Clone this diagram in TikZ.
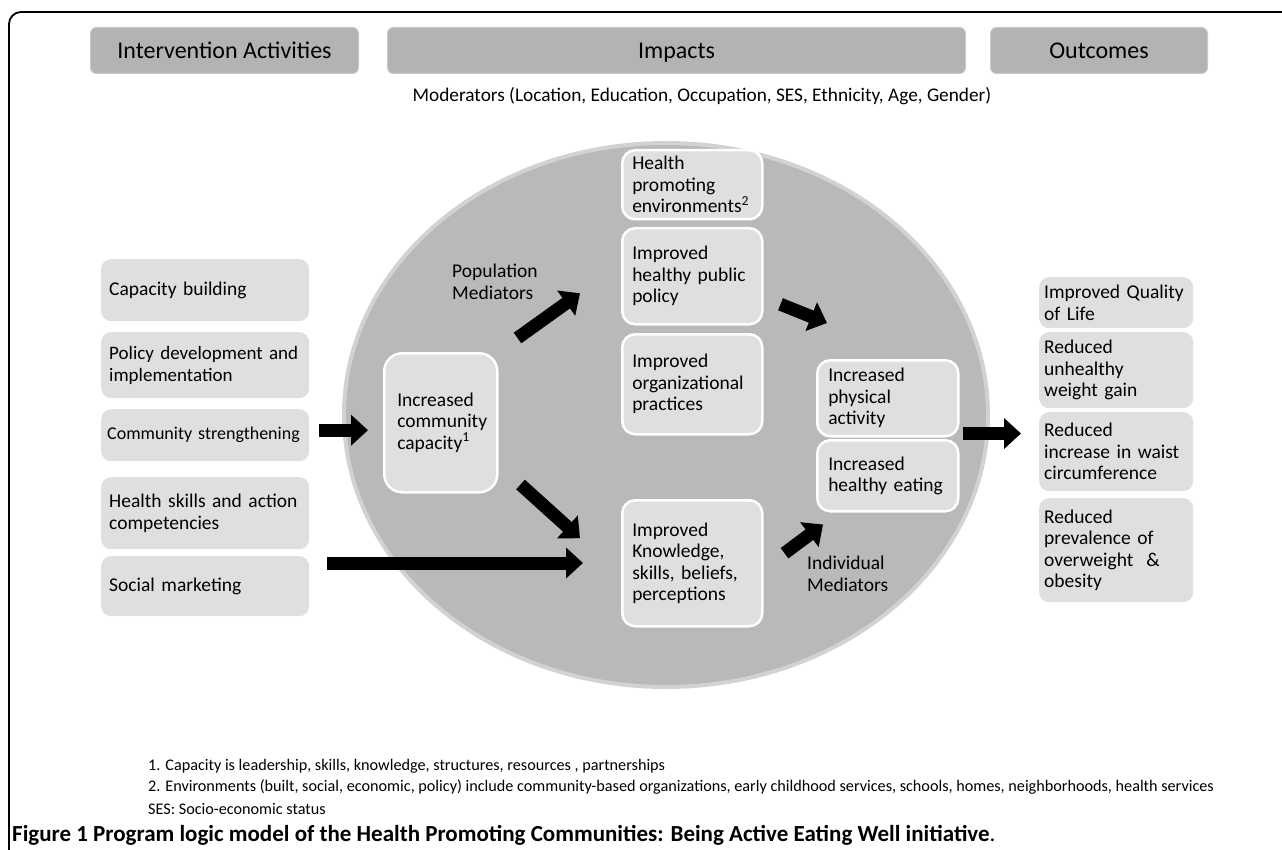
\documentclass[tikz,border=0pt]{standalone}
\usepackage{fontspec}
\setmainfont{Carlito}
\usetikzlibrary{arrows.meta,calc}
\definecolor{ellgray}{HTML}{B9B9B9}
\definecolor{rimgray}{HTML}{D2D2D2}
\definecolor{hdrgray}{HTML}{B3B3B3}
\definecolor{hdrline}{HTML}{C9C9C9}
\definecolor{boxgray}{HTML}{DFDFDF}
\tikzset{
  hdr/.style={fill=hdrgray, draw=hdrline, line width=1pt, rounded corners=6pt, anchor=north west,
    inner sep=0pt, text height=16pt, text depth=0pt, font=\fontsize{24}{28}\selectfont},
  txt/.style={font=\fontsize{19.5}{21.5}\selectfont},
  lbox/.style={txt, fill=boxgray, draw=none, rounded corners=10pt, anchor=north west, inner xsep=8pt,
    inner ysep=0pt, align=left, execute at begin node=\hyphenpenalty10000\exhyphenpenalty10000},
  ibox/.style={lbox, draw=white, line width=2.5pt, rounded corners=13pt, inner xsep=10pt},
  obox/.style={lbox, inner xsep=5pt},
  bigarrow/.style={line width=13pt, -{Triangle[width=30pt,length=17pt]}},
  note/.style={anchor=west, inner sep=0pt, font=\fontsize{16.2}{19}\selectfont},
}
\begin{document}
\begin{tikzpicture}[x=1pt,y=-1pt]
\useasboundingbox (0,0) rectangle (1282,850);
% frame
\draw[line width=1.8pt, rounded corners=12pt] (9,900) -- (9,12) -- (1320,12);
% headers
\node[hdr, minimum width=268pt, minimum height=46pt] (hIA) at (90,27) {Intervention Activities};
\node[hdr, minimum width=578pt, minimum height=46pt] (hIm) at (387,27) {Impacts};
\node[hdr, minimum width=217pt, minimum height=46pt] (hOut) at (990,27) {Outcomes};
\node[font=\fontsize{19.3}{22}\selectfont, inner sep=0pt] (mod) at (702,96)
  {Moderators (Location, Education, Occupation, SES, Ethnicity, Age, Gender)};
% ellipse
\draw[line width=4pt, draw=rimgray, fill=ellgray] (666,415) ellipse [x radius=322, y radius=272];
% left column
\node[lbox, minimum width=208pt, minimum height=62pt, text width=192pt] (cb) at (101,259) {Capacity building};
\node[lbox, minimum width=208pt, minimum height=66pt, text width=192pt, font=\fontsize{19}{21.5}\selectfont] (pd) at (101,332) {Policy development and\\implementation};
\node[lbox, minimum width=208pt, minimum height=52pt, text width=196pt, inner xsep=6pt, font=\fontsize{18}{21}\selectfont] (cs) at (101,409) {Community strengthening};
\node[lbox, minimum width=208pt, minimum height=72pt, text width=192pt] (hs) at (101,477) {Health skills and action\\competencies};
\node[lbox, minimum width=208pt, minimum height=60pt, text width=192pt] (sm) at (101,556) {Social marketing};
% capacity
\node[ibox, minimum width=113pt, minimum height=139pt, text width=87pt, inner xsep=13pt, rounded corners=18pt] (cap) at (383,352)
  {Increased\\community\\capacity\textsuperscript{1}};
% middle column
\node[ibox, minimum width=140pt, minimum height=69pt, text width=120pt] (hpe) at (621,149) {Health\\promoting\\environments\textsuperscript{2}};
\node[ibox, minimum width=140pt, minimum height=96pt, text width=120pt] (hpp) at (621,227) {Improved\\healthy public\\policy};
\node[ibox, minimum width=140pt, minimum height=100pt, text width=120pt] (iop) at (621,333) {Improved\\organizational\\practices};
\node[ibox, minimum width=140pt, minimum height=126pt, text width=120pt] (ikn) at (621,499) {Improved\\Knowledge,\\skills, beliefs,\\perceptions};
% behaviours
\node[ibox, minimum width=141pt, minimum height=76pt, text width=119pt, inner xsep=11pt] (ipa) at (816,359) {Increased\\physical\\activity};
\node[ibox, minimum width=141pt, minimum height=71pt, text width=119pt, inner xsep=11pt] (ihe) at (816,439) {Increased\\healthy eating};
% mediator labels
\node[txt, anchor=north west, align=left, inner sep=0pt] (popm) at (452,264) {Population\\Mediators};
\node[txt, anchor=north west, align=left, inner sep=0pt] (indm) at (807,556) {Individual\\Mediators};
% outcomes
\node[obox, minimum width=154pt, minimum height=51pt, text width=144pt] (oq) at (1039,277) {Improved Quality\\of Life};
\node[obox, minimum width=154pt, minimum height=76pt, text width=144pt] (ou) at (1039,332) {Reduced\\unhealthy\\weight gain};
\node[obox, minimum width=154pt, minimum height=79pt, text width=144pt] (ow) at (1039,412) {Reduced\\increase in waist\\circumference};
\node[obox, minimum width=154pt, minimum height=104pt, text width=144pt] (op) at (1039,498) {Reduced\\prevalence of\\overweight\ \ \&\\obesity};
% arrows
\coordinate (a1s) at ($(cs.east)+(10,-5)$);
\draw[bigarrow, shorten >=15pt] (a1s) -- (a1s -| cap.west);
\coordinate (a2s) at ($(sm.north east)+(18,7)$);
\draw[bigarrow, shorten >=38pt] (a2s) -- (a2s -| ikn.west);
\draw[bigarrow] ($(cap.north east)+(19,-14)$) -- ($(hpp.west)+(-41,17)$);
\draw[bigarrow] ($(cap.south east)+(22,-9)$) -- ($(ikn.west)+(-41,-25)$);
\draw[bigarrow] ($(hpp.east)+(17,28)$) -- ($(ipa.north west)+(11,-36)$);
\draw[bigarrow] ($(ikn.east)+(21,-10)$) -- ($(ihe.south west)+(7,12)$);
\coordinate (a7s) at ($(ipa.south east)+(3,-4)$);
\draw[bigarrow, shorten >=18pt] (a7s) -- (a7s -| ow.west);
% footnotes
\node[note] (n1) at (148,766) {1. Capacity is leadership, skills, knowledge, structures, resources , partnerships};
\node[note] (n2) at (148,787) {2. Environments (built, social, economic, policy) include community-based organizations, early childhood services, schools, homes, neighborhoods, health services};
\node[note] (n3) at (148,809) {SES: Socio-economic status};
\node[anchor=west, inner sep=0pt, font=\fontsize{23}{26}\selectfont] (cap1) at (12,835)
  {\textbf{Figure 1 Program logic model of the Health Promoting Communities: Being Active Eating Well initiative}.};
\end{tikzpicture}
\end{document}
